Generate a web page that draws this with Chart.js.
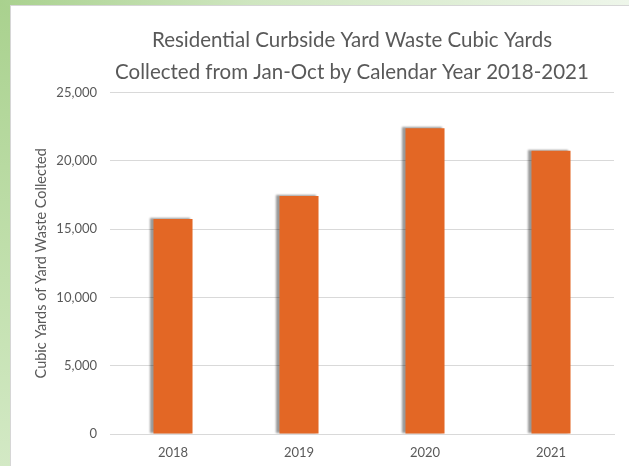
<!DOCTYPE html>
<html>
<head>
<meta charset="utf-8">
<script src="https://cdn.jsdelivr.net/npm/chart.js@4"></script>
<style>
  html, body { margin: 0; padding: 0; width: 629px; height: 466px; overflow: hidden; }
  body { background: linear-gradient(180deg, #a9d18e 0%, #c2e0ae 60%, #d3e9c5 100%); position: relative; }
  #topband { position: absolute; left: 0; top: 0; width: 629px; height: 6px;
    background: linear-gradient(90deg, #a9d18e 0%, #cfe6c0 40%, #eef6ea 100%); }
  #card { position: absolute; left: 10px; top: 5px; width: 682px; height: 461px; background: #fff;
    border-left: 1px solid #d6d6d6; border-top: 1px solid #d6d6d6; }
</style>
</head>
<body>
<div id="topband"></div>
<div id="card"><canvas id="yardWaste" width="682" height="461"></canvas></div>
<script>
const years = ['2018', '2019', '2020', '2021'];
const cubicYards = [15750, 17420, 22380, 20740];
const yTicks = [0, 5000, 10000, 15000, 20000, 25000];
const chartTitle = ['Residential Curbside Yard Waste Cubic Yards', 'Collected from Jan-Oct by Calendar Year 2018-2021'];
const yTitle = 'Cubic Yards of Yard Waste Collected';

// Excel-style soft shadow on the left of each bar
const barShadow = {
    id: 'barShadow',
    beforeDatasetsDraw(chart) {
        const c = chart.ctx;
        c.save();
        c.shadowColor = 'rgba(0,0,0,0.4)';
        c.shadowBlur = 2;
        c.shadowOffsetX = -3;
        c.shadowOffsetY = -1;
    },
    afterDatasetsDraw(chart) {
        chart.ctx.restore();
    }
};

const ctx = document.getElementById('yardWaste');
new Chart(ctx, {
    type: 'bar',
    data: {
        labels: years,
        datasets: [{
            label: 'Cubic Yards',
            data: cubicYards,
            backgroundColor: '#e36725',
            borderWidth: 0,
            categoryPercentage: 1,
            barPercentage: 0.31
        }]
    },
    plugins: [barShadow],
    options: {
        responsive: false,
        animation: false,
        layout: { padding: 0 },
        plugins: {
            legend: { display: false },
            tooltip: { enabled: false },
            title: {
                display: true,
                text: chartTitle,
                color: '#595959',
                font: { family: 'Lato', size: 20.5, weight: 'normal', lineHeight: 1.55 },
                padding: { top: 19, bottom: 4 }
            }
        },
        scales: {
            x: {
                grid: { display: false, drawTicks: false },
                border: { color: '#d9d9d9', width: 1 },
                ticks: { color: '#595959', font: { family: 'Lato', size: 13 }, padding: 11 },
                afterFit(scale) { scale.height = 33; }
            },
            y: {
                min: 0,
                max: 25000,
                afterBuildTicks(scale) { scale.ticks = yTicks.map(v => ({ value: v })); },
                grid: { color: '#d9d9d9', drawTicks: false },
                border: { display: false },
                ticks: {
                    color: '#595959',
                    font: { family: 'Lato', size: 13 },
                    padding: 13,
                    callback: v => v.toLocaleString('en-US')
                },
                title: {
                    display: true,
                    text: yTitle,
                    color: '#595959',
                    font: { family: 'Lato', size: 14.5 },
                    padding: { top: 22, bottom: 0 }
                },
                afterFit(scale) { scale.width = 99; }
            },
            // empty right-hand space of the original chart area
            yRight: {
                position: 'right',
                display: true,
                grid: { display: false, drawTicks: false },
                border: { display: false },
                ticks: { display: false },
                afterFit(scale) { scale.width = 79; }
            }
        }
    }
});
</script>
</body>
</html>
